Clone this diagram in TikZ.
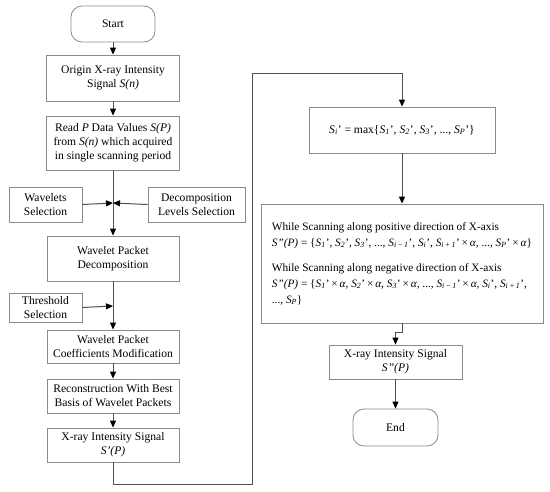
\documentclass[tikz,border=0pt]{standalone}
\usepackage{fontspec}
\setmainfont{Liberation Serif}
\usetikzlibrary{arrows.meta}
\definecolor{boxgray}{HTML}{8A8A8A}
\definecolor{linegray}{HTML}{505050}
\newcommand{\Sv}[1]{\textit{S}\textsubscript{\textit{#1}}}
\begin{document}
\begin{tikzpicture}[x=1pt,y=-1pt,
  box/.style={draw=boxgray, line width=0.8pt, align=center, inner sep=1pt,
    font=\fontsize{11.6}{14}\selectfont},
  term/.style={box, rounded corners=11pt},
  conn/.style={draw=linegray, line width=1pt},
  arr/.style={conn, -{Triangle[length=7pt,width=6pt,color=black]}}]
\useasboundingbox (0,0) rectangle (550,491);
% left column
\node[term, minimum width=84pt, minimum height=36pt] (start) at (113,24) {Start};
\node[box, minimum width=133pt, minimum height=46pt] (origin) at (113,78) {Origin X-ray Intensity\\Signal \textit{S(n)}};
\node[box, minimum width=133pt, minimum height=54pt] (read) at (113,143) {Read \textit{P} Data Values \textit{S(P)}\\from \textit{S(n)} which acquired\\in single scanning period};
\node[box, minimum width=73pt, minimum height=35pt] (wav) at (45.5,204.5) {Wavelets\\Selection};
\node[box, minimum width=97pt, minimum height=35pt] (dec) at (196.5,204.5) {Decomposition\\Levels Selection};
\node[box, minimum width=132pt, minimum height=45pt] (wpd) at (113,258.5) {Wavelet Packet\\Decomposition};
\node[box, minimum width=73pt, minimum height=29pt] (thr) at (45.5,307.5) {Threshold\\Selection};
\node[box, minimum width=132pt, minimum height=33pt] (wpcm) at (113,346.5) {Wavelet Packet\\Coefficients Modification};
\node[box, minimum width=132pt, minimum height=34pt] (rec) at (113,396) {Reconstruction With Best\\Basis of Wavelet Packets};
\node[box, minimum width=132pt, minimum height=34pt] (xs1) at (113,445) {X-ray Intensity Signal\\\textit{S’(P)}};
% right column
\node[box, minimum width=186pt, minimum height=46pt] (si) at (402,130) {\Sv{i}’ = max\{\Sv{1}’, \Sv{2}’, \Sv{3}’, ..., \Sv{P}’\}};
\node[box, minimum width=282pt, minimum height=119pt, align=left, font=\fontsize{11.3}{16}\selectfont] (big) at (402,263.5) {While Scanning along positive direction of X-axis\\
\textit{S”(P)} = \{\Sv{1}’, \Sv{2}’, \Sv{3}’, ..., \Sv{i\,−\,1}’, \Sv{i}’, \Sv{i\,+\,1}’\,×\,\textit{α}, ..., \Sv{P}’\,×\,\textit{α}\}\\[9pt]
While Scanning along negative direction of X-axis\\
\textit{S”(P)} = \{\Sv{1}’\,×\,\textit{α}, \Sv{2}’\,×\,\textit{α}, \Sv{3}’\,×\,\textit{α}, ..., \Sv{i\,−\,1}’\,×\,\textit{α}, \Sv{i}’, \Sv{i\,+\,1}’,\\
..., \Sv{P}\}};
\node[box, minimum width=133pt, minimum height=34pt] (xs2) at (395.5,362) {X-ray Intensity Signal\\\textit{S”(P)}};
\node[term, minimum width=85pt, minimum height=37pt] (end) at (395.5,427.5) {End};
% junction coordinates
\coordinate (j1) at (113,203);
\coordinate (j2) at (113,306);
\coordinate (c1) at (113,484);
\coordinate (c2) at (252,484);
\coordinate (c3) at (252,73);
\coordinate (c4) at (402,73);
% connectors
\draw[arr] (start) -- (origin);
\draw[arr] (origin) -- (read);
\draw[arr] (read) -- (wpd);
\draw[arr] (wav.east) -- (j1);
\draw[arr] (dec.west) -- (j1);
\draw[arr] (wpd) -- (wpcm);
\draw[arr] (thr.east) -- (j2);
\draw[arr] (wpcm) -- (rec);
\draw[arr] (rec) -- (xs1);
\draw[arr] (xs1.south) -- (c1) -- (c2) -- (c3) -- (c4) -- (si.north);
\draw[arr] (si) -- (big);
\draw[arr] (big.south) -- ++(0,9) -| (xs2.north);
\draw[arr] (xs2) -- (end);
\end{tikzpicture}
\end{document}
